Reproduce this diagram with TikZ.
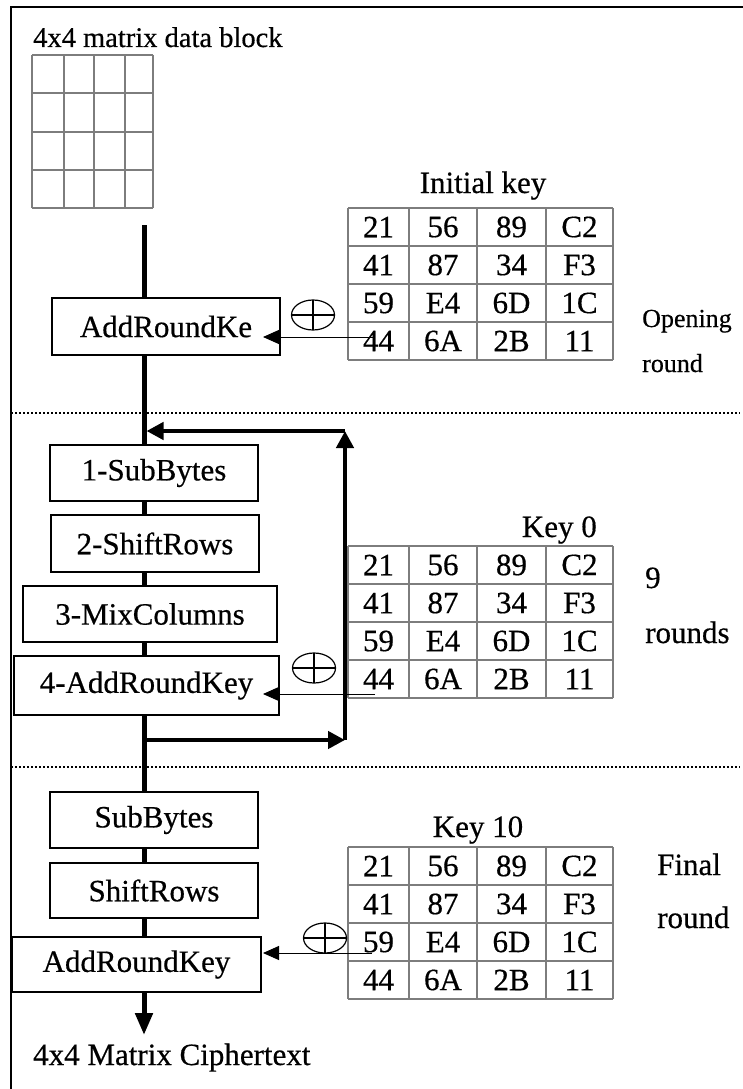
\documentclass[tikz,border=0pt]{standalone}
\usepackage{fontspec}
\setmainfont[FakeBold=0.5]{Liberation Serif}
\usetikzlibrary{arrows.meta,shapes.geometric}
\definecolor{cgray}{RGB}{125,125,125}
\tikzset{
  txt/.style={font=\fontsize{31}{36}\selectfont, inner sep=0pt},
  ttl/.style={font=\fontsize{28.5}{34}\selectfont, inner sep=0pt},
  sml/.style={font=\fontsize{26}{30}\selectfont, inner sep=0pt},
  opbox/.style={draw, line width=1.5pt, fill=white, inner sep=0pt, font=\fontsize{31}{36}\selectfont},
  cell/.style={cgray, line width=1.8pt},
  spine/.style={line width=5pt},
  loopar/.style={line width=4.5pt, -{Triangle[length=17pt,width=17pt]}},
  keyar/.style={line width=1pt, -{Triangle[length=16pt,width=14pt]}},
  xor/.style={ellipse, draw, line width=1.2pt, minimum width=43pt, minimum height=30pt, inner sep=0pt,
    path picture={\draw[line width=1.2pt] (path picture bounding box.north) -- (path picture bounding box.south)
      (path picture bounding box.west) -- (path picture bounding box.east);}},
  sep/.style={line width=1.2pt, dash pattern=on 1.5pt off 2.5pt}
}
% key table: #1 name, #2 top edge
\newcommand{\keygrid}[2]{%
  \foreach \gx in {348,409,477,546,613} \draw[cell] (\gx,#2) -- (\gx,#2+152);
  \foreach \gy in {0,38,76,114,152} \draw[cell] (348,#2+\gy) -- (613,#2+\gy);
  \foreach \rowv [count=\r] in {{21,56,89,C2},{41,87,34,F3},{59,E4,6D,1C},{44,6A,2B,11}}{
    \foreach \v [count=\c] in \rowv {
      \pgfmathsetmacro\cx{{378.5,443,511.5,579.5}[\c-1]}
      \node[txt] (#1-\r-\c) at (\cx,#2+\r*38-19) {\v};
    }
  }%
}

\begin{document}
\begin{tikzpicture}[x=1pt,y=-1pt]
  \useasboundingbox (0,0) rectangle (743,1089);
  % frame and round separators
  \draw[line width=1.8pt] (743,7) -- (11,7) -- (11,1089);
  \draw[sep] (11,413) -- (740,413);
  \draw[sep] (11,767) -- (740,767);

  % plaintext block
  \node[ttl, anchor=base west] (ptxt) at (33,47) {4x4 matrix data block};
  \foreach \gx in {32,64,94,125,153} \draw[cell] (\gx,55) -- (\gx,208);
  \foreach \gy in {55,93,132,170,208} \draw[cell] (32,\gy) -- (153,\gy);

  % key tables
  \keygrid{ki}{208}
  \keygrid{kz}{546}
  \keygrid{kt}{847}
  \node[txt, anchor=base] (lki) at (483,193) {Initial key};
  \node[txt, anchor=base east] (lkz) at (597,537) {Key 0};
  \node[txt, anchor=base] (lkt) at (478,837) {Key 10};

  % round labels
  \node[sml, anchor=base west] (op1) at (642,327) {Opening};
  \node[sml, anchor=base west] (op2) at (642,372) {round};
  \node[txt, anchor=base west] (nr1) at (645,588) {9};
  \node[txt, anchor=base west] (nr2) at (645,643) {rounds};
  \node[txt, anchor=base west] (fr1) at (657,875) {Final};
  \node[txt, anchor=base west] (fr2) at (657,928) {round};

  % operation boxes
  \node[opbox, minimum width=228pt, minimum height=57pt] (ark0) at (166,326.5) {AddRoundKe};
  \node[opbox, minimum width=208pt, minimum height=56pt] (sb) at (154,473) {1-SubBytes};
  \node[opbox, minimum width=208pt, minimum height=57pt] (sr) at (155,543.5) {2-ShiftRows};
  \node[opbox, minimum width=254pt, minimum height=56pt] (mc) at (150,614) {3-MixColumns};
  \node[opbox, minimum width=265pt, minimum height=59pt] (ark) at (146.5,685.5) {4-AddRoundKey};
  \node[opbox, minimum width=208pt, minimum height=56pt] (fsb) at (154,820) {SubBytes};
  \node[opbox, minimum width=208pt, minimum height=55pt] (fsr) at (154,890.5) {ShiftRows};
  \node[opbox, minimum width=249pt, minimum height=55pt] (fark) at (136.5,964.5) {AddRoundKey};

  % data path
  \coordinate (in) at (144,225);
  \coordinate (lin) at (144,431);
  \coordinate (lout) at (144,740);
  \coordinate (lr) at (345,740);
  \coordinate (ur) at (345,431);
  \coordinate (out) at (144,1035);
  \draw[spine] (in) -- (in |- ark0.north);
  \draw[spine] (in |- ark0.south) -- (in |- sb.north);
  \draw[spine] (in |- sb.south) -- (in |- sr.north);
  \draw[spine] (in |- sr.south) -- (in |- mc.north);
  \draw[spine] (in |- mc.south) -- (in |- ark.north);
  \draw[spine] (in |- ark.south) -- (in |- fsb.north);
  \draw[spine] (in |- fsb.south) -- (in |- fsr.north);
  \draw[spine] (in |- fsr.south) -- (in |- fark.north);
  \draw[spine, -{Triangle[length=22pt,width=17pt]}] (in |- fark.south) -- (out);
  \node[txt, anchor=base west] (ctxt) at (33,1065) {4x4 Matrix Ciphertext};

  % loop back for the 9 rounds
  \draw[loopar] (lout) -- (lr);
  \draw[loopar] (lr) -- (ur);
  \draw[loopar, shorten >=2.5pt] (ur) -- (lin);

  % round keys
  \coordinate (tip) at (263,0);
  \coordinate (ka0) at (373,337);
  \coordinate (ka1) at (375,694);
  \coordinate (ka2) at (372,953);
  \draw[keyar] (ka0) -- (ka0 -| tip);
  \draw[keyar] (ka1) -- (ka1 -| tip);
  \draw[keyar] (ka2) -- (ka2 -| tip);
  \node[xor] (x0) at (313,315) {};
  \node[xor] (x1) at (314,668) {};
  \node[xor] (x2) at (325,938) {};
\end{tikzpicture}
\end{document}
